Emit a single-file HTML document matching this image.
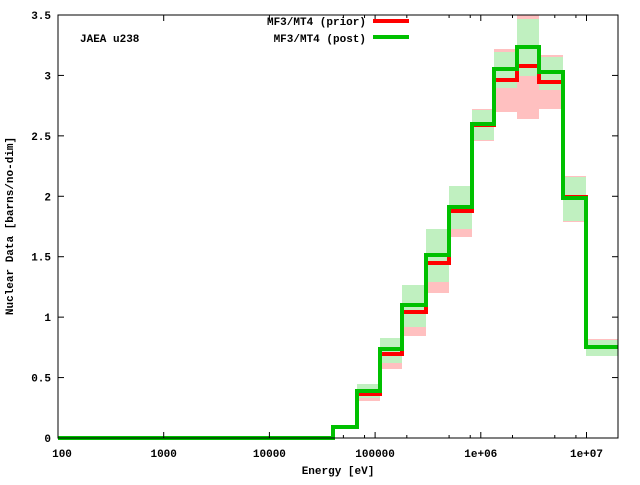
<!DOCTYPE html>
<html><head><meta charset="utf-8"><style>
body{margin:0;background:#fff}
svg text{font-family:"Liberation Mono","DejaVu Sans Mono",monospace;font-weight:bold;font-size:11px;fill:#000}
</style></head><body>
<svg id="s" width="640" height="480" xmlns="http://www.w3.org/2000/svg">
<g id="bands"></g>
<path id="red" fill="none" stroke="#ff0000" stroke-width="4"/>
<path id="grn" fill="none" stroke="#00c000" stroke-width="4"/>
<g id="ticks" stroke="#000" stroke-width="1"></g>
<rect x="58" y="15" width="560" height="423" fill="none" stroke="#000" stroke-width="1"/>
<g id="lbl"></g>
<text x="80" y="42">JAEA u238</text>
<text x="366" y="25" text-anchor="end">MF3/MT4 (prior)</text>
<line x1="373" y1="21" x2="409" y2="21" stroke="#ff0000" stroke-width="4"/>
<text x="366" y="42" text-anchor="end">MF3/MT4 (post)</text>
<line x1="373" y1="37" x2="409" y2="37" stroke="#00c000" stroke-width="4"/>
<text x="338" y="474" text-anchor="middle">Energy [eV]</text>
<text transform="translate(13,226) rotate(-90)" text-anchor="middle">Nuclear Data [barns/no-dim]</text>
</svg>
<script>
var ns="http://www.w3.org/2000/svg",s=document.getElementById('s');
function el(p,t,a,txt){var e=document.createElementNS(ns,t);for(var k in a)e.setAttribute(k,a[k]);if(txt!=null)e.textContent=txt;document.getElementById(p).appendChild(e);}
var E=[58,333,357,380,402,426,449,472,494,517,539,563,586,618];
var G=[438,427,391,349,305,255,207,124,69,47,72,198,347];
var R=[438,427,394,354,312,263,211,125,80,66,82,197,347];
var B=[[2,384,398,397,401],[3,338,363,363,369],[4,285,327,327,336],[5,229,282,282,293],[6,186,229,229,237],[7,110,140,109,141],[8,52,88,49,112],[9,19,76,15,119],[10,57,90,55,109],[11,177,221,176,222],[12,340,356,339,356]];
B.forEach(function(b){var i=b[0];el('bands','rect',{x:E[i],y:b[3],width:E[i+1]-E[i],height:b[4]-b[3],fill:'#ffc0c0'});});
B.forEach(function(b){var i=b[0];el('bands','rect',{x:E[i],y:b[1],width:E[i+1]-E[i],height:b[2]-b[1],fill:'#c0f0c0'});});
function step(Y){var d='M'+E[0]+','+Y[0];for(var i=0;i<Y.length;i++){d+=' L'+E[i]+','+Y[i]+' L'+E[i+1]+','+Y[i];}return d;}
document.getElementById('red').setAttribute('d',step(R));
document.getElementById('grn').setAttribute('d',step(G));
function X(l){return 58+105.7*(l-2);}
var labs=['100','1000','10000','100000','1e+06','1e+07'];
for(var d=2;d<=7;d++){var x=X(d);el('ticks','line',{x1:x,y1:438,x2:x,y2:432});el('ticks','line',{x1:x,y1:15,x2:x,y2:21});
el('lbl','text',{x:x+(d==2?4:0),y:457,'text-anchor':'middle'},labs[d-2]);}
[4.7,4.9,5.3,5.7,5.9,6.3,6.7,6.9].forEach(function(l){var xm=X(l);el('ticks','line',{x1:xm,y1:438,x2:xm,y2:435});el('ticks','line',{x1:xm,y1:15,x2:xm,y2:18});});
for(var v=0;v<=7;v++){var y=438-v*0.5*120.86;el('ticks','line',{x1:58,y1:y,x2:64,y2:y});el('ticks','line',{x1:618,y1:y,x2:612,y2:y});
el('lbl','text',{x:51,y:y+4,'text-anchor':'end'},(v*0.5).toString());}
</script>
</body></html>
